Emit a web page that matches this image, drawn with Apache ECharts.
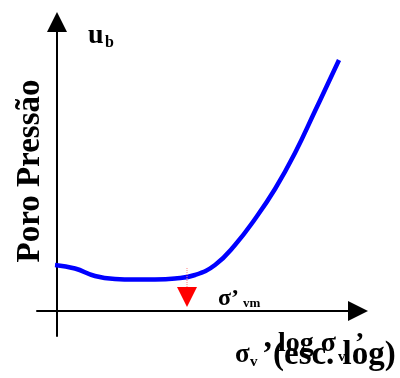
<!DOCTYPE html>
<html>
<head>
<meta charset="utf-8">
<script src="https://cdn.jsdelivr.net/npm/echarts@6/dist/echarts.min.js"></script>
<style>
  html, body { margin: 0; padding: 0; background: #fff; }
  #chart { width: 400px; height: 378px; }
</style>
</head>
<body>
<div id="chart"></div>
<script>
// curva de poro pressão (unidades arbitrárias, eixo x em escala log)
var curveX = [-2, 18, 38, 58, 78, 98, 118, 138, 158, 178, 198, 218, 238, 258, 282];
var curveY = [46, 42.5, 35, 32, 31.5, 31.5, 32.5, 36, 46, 66, 92, 122, 158, 200, 251];

// tensão de pré-adensamento (seta vermelha)
var sigmaVm = 130;
var markerY = 14;
var guideY = [43, 24];

var serif = '"Liberation Serif", "DejaVu Serif", serif';

function label(text, x, y, size, extra, align) {
  var el = {
    type: 'text',
    x: x,
    y: y,
    style: {
      text: text,
      font: 'bold ' + size + 'px ' + serif,
      fill: '#000',
      align: align || 'left',
      verticalAlign: 'middle'
    },
    z: 10
  };
  if (extra) {
    for (var k in extra) el[k] = extra[k];
  }
  return el;
}

var chart = echarts.init(document.getElementById('chart'));

chart.setOption({
  animation: false,
  grid: { left: 37, right: 42, top: 22, bottom: 42 },
  xAxis: {
    type: 'value',
    min: -20,
    max: 301,
    axisLine: {
      show: true,
      symbol: ['none', 'triangle'],
      symbolSize: [20, 20],
      lineStyle: { color: '#000', width: 2 }
    },
    axisTick: { show: false },
    axisLabel: { show: false },
    splitLine: { show: false }
  },
  yAxis: {
    type: 'value',
    min: -25,
    max: 289,
    axisLine: {
      show: true,
      symbol: ['none', 'triangle'],
      symbolSize: [20, 20],
      lineStyle: { color: '#000', width: 2 }
    },
    axisTick: { show: false },
    axisLabel: { show: false },
    splitLine: { show: false }
  },
  series: [
    {
      name: 'ub',
      type: 'line',
      smooth: 0.45,
      symbol: 'none',
      lineStyle: { color: '#0000ff', width: 4.5 },
      data: curveX.map(function (x, i) { return [x, curveY[i]]; })
    },
    {
      name: 'guia',
      type: 'line',
      symbol: 'none',
      lineStyle: { color: '#ff7f7f', width: 1, type: 'dotted' },
      data: guideY.map(function (y) { return [sigmaVm, y]; })
    },
    {
      name: 'sigma_vm',
      type: 'scatter',
      symbol: 'triangle',
      symbolRotate: 180,
      symbolSize: [20, 20],
      itemStyle: { color: '#ff0000', opacity: 1 },
      data: [[sigmaVm, markerY]]
    }
  ],
  graphic: [
    label('u', 88, 36, 28),
    label('b', 105, 43, 16),
    label('Poro Pressão', 30, 171, 33, { rotation: Math.PI / 2 }, 'center'),
    label('σ’', 218, 299, 24),
    label('vm', 243, 304, 13),
    label('log σ', 278, 344, 28),
    label('v', 338, 357, 15),
    label('’', 355, 344, 28),
    label('σ', 235, 355, 27),
    label('v', 250, 362, 15),
    label('’(esc. log)', 262, 355, 33)
  ]
});
</script>
</body>
</html>
